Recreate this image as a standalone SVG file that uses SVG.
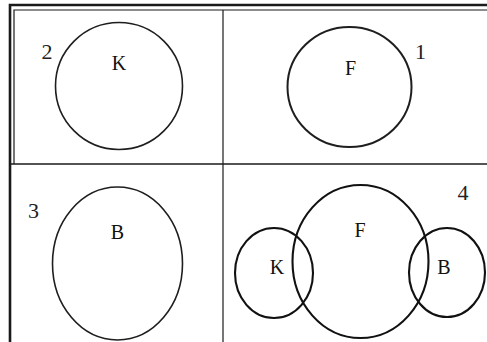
<svg xmlns="http://www.w3.org/2000/svg" width="487" height="342" viewBox="0 0 487 342">
<style>
.c{fill:none;stroke:#1e1e1e;stroke-width:1.6}
.v{fill:none;stroke:#111;stroke-width:2.1}
.t{font-family:"Liberation Serif","Times New Roman",serif;font-size:20px;fill:#111;text-anchor:middle}
.n{font-family:"Liberation Serif","Times New Roman",serif;font-size:22px;fill:#222;text-anchor:middle}
.f{fill:none;stroke:#1a1a1a}
</style>
<rect width="487" height="342" fill="#fff"/>
<g id="frame">
<path class="f" d="M10,342 V5 H487" stroke-width="2.6"/>
<path class="f" d="M14,164 V10 H487" stroke-width="1.2"/>
<path class="f" d="M223,10 V342" stroke-width="1.2"/>
<path class="f" d="M11,164 H487" stroke-width="1.4"/>
</g>
<g id="panel2">
<circle class="c" cx="119" cy="86" r="63.5" stroke-width="1.4"/>
<text class="t" x="119" y="70">K</text>
<text class="n" x="47" y="59">2</text>
</g>
<g id="panel1">
<ellipse class="c" cx="349.5" cy="87" rx="62" ry="60" style="stroke-width:2"/>
<text class="t" x="350.5" y="75">F</text>
<text class="n" x="420.5" y="59">1</text>
</g>
<g id="panel3">
<ellipse class="c" cx="117.5" cy="263.5" rx="65" ry="76.5"/>
<text class="t" x="117.5" y="239">B</text>
<text class="n" x="33.5" y="218">3</text>
</g>
<g id="panel4">
<ellipse class="v" cx="274" cy="273" rx="39" ry="45"/>
<ellipse class="v" cx="360.5" cy="261.5" rx="68" ry="76.5"/>
<ellipse class="v" cx="447" cy="272.5" rx="38" ry="44.5"/>
<text class="t" x="360" y="237">F</text>
<text class="t" x="277" y="274">K</text>
<text class="t" x="444" y="274">B</text>
<text class="n" x="463" y="200">4</text>
</g>
</svg>
